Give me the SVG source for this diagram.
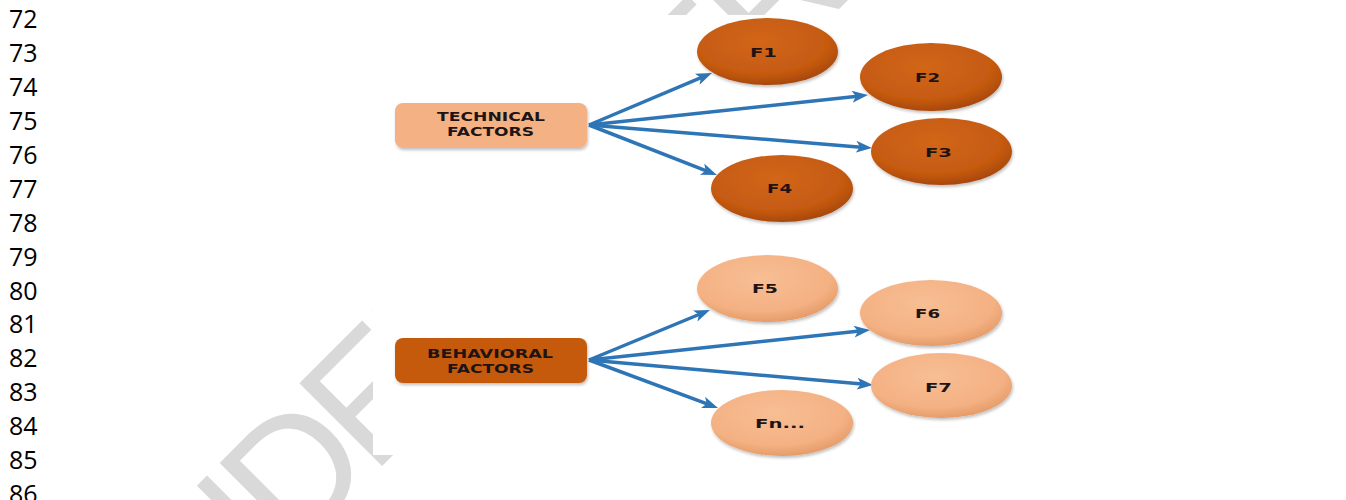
<svg xmlns="http://www.w3.org/2000/svg" width="1346" height="500" viewBox="0 0 1346 500">
<style>
.ln{font-family:"Open Sans","Liberation Sans",sans-serif;font-size:25px;fill:#000}
.wm{font-family:"Liberation Sans",Arial,sans-serif;font-size:170px;letter-spacing:-10px;fill:#d9d9d9}
.lbl{font-family:"DejaVu Sans","Liberation Sans",sans-serif;font-weight:bold;fill:#1e1414}
.box{font-size:12.5px}
.el{font-size:13px}
.conn{stroke:#2E75B6;stroke-width:3.5;fill:none;marker-end:url(#ah)}
</style>
<defs>
<marker id="ah" markerUnits="userSpaceOnUse" markerWidth="16" markerHeight="12" refX="8" refY="6" orient="auto">
<path d="M0,0 L16,6 L0,12 L4,6 z" fill="#2E75B6"/>
</marker>
<radialGradient id="gDark" cx="45%" cy="35%" r="65%">
<stop offset="0" stop-color="#D2661A"/>
<stop offset="0.75" stop-color="#C55A11"/>
<stop offset="1" stop-color="#A8480B"/>
</radialGradient>
<radialGradient id="gLight" cx="45%" cy="35%" r="65%">
<stop offset="0" stop-color="#F7BE94"/>
<stop offset="0.75" stop-color="#F4B183"/>
<stop offset="1" stop-color="#E59C6A"/>
</radialGradient>
<filter id="sh" x="-20%" y="-20%" width="140%" height="150%">
<feDropShadow dx="1" dy="2" stdDeviation="1.5" flood-color="#000" flood-opacity="0.25"/>
</filter>
</defs>

<g id="line-numbers">
<text class="ln" x="9" y="28">72</text>
<text class="ln" x="9" y="62">73</text>
<text class="ln" x="9" y="96">74</text>
<text class="ln" x="9" y="130">75</text>
<text class="ln" x="9" y="164">76</text>
<text class="ln" x="9" y="198">77</text>
<text class="ln" x="9" y="232">78</text>
<text class="ln" x="9" y="266">79</text>
<text class="ln" x="9" y="300">80</text>
<text class="ln" x="9" y="333">81</text>
<text class="ln" x="9" y="367">82</text>
<text class="ln" x="9" y="401">83</text>
<text class="ln" x="9" y="435">84</text>
<text class="ln" x="9" y="469">85</text>
<text class="ln" x="9" y="503">86</text>
</g>

<g id="watermark">
<text class="wm" transform="translate(133,715) rotate(-45)">UNDER PEER REVIEW</text>
</g>

<rect x="373" y="15" width="660" height="440" fill="#ffffff"/>

<g id="connectors">
<line class="conn" x1="589" y1="125" x2="704.6" y2="76.1"/>
<line class="conn" x1="589" y1="125" x2="860.0" y2="95.9"/>
<line class="conn" x1="589" y1="125" x2="864.0" y2="147.4"/>
<line class="conn" x1="589" y1="125" x2="709.5" y2="172.1"/>
<line class="conn" x1="589" y1="360" x2="702.6" y2="313.0"/>
<line class="conn" x1="589" y1="360" x2="862.0" y2="330.8"/>
<line class="conn" x1="589" y1="360" x2="865.0" y2="384.3"/>
<line class="conn" x1="589" y1="360" x2="710.5" y2="405.2"/>
</g>

<g id="technical-factors">
<rect x="395" y="103" width="192" height="45" rx="8" fill="#F4B183" filter="url(#sh)"/>
<text class="lbl box" x="491" y="121" text-anchor="middle" textLength="108" lengthAdjust="spacingAndGlyphs">TECHNICAL</text>
<text class="lbl box" x="490.5" y="136" text-anchor="middle" textLength="87" lengthAdjust="spacingAndGlyphs">FACTORS</text>
</g>

<g id="behavioral-factors">
<rect x="395" y="338" width="192" height="45" rx="8" fill="#C55A11" filter="url(#sh)"/>
<text class="lbl box" x="490" y="358" text-anchor="middle" textLength="126" lengthAdjust="spacingAndGlyphs">BEHAVIORAL</text>
<text class="lbl box" x="490.5" y="373" text-anchor="middle" textLength="87" lengthAdjust="spacingAndGlyphs">FACTORS</text>
</g>

<g id="f1">
<ellipse cx="767.5" cy="51.5" rx="70.5" ry="33.5" fill="url(#gDark)" filter="url(#sh)"/>
<text class="lbl el" x="763.5" y="57" text-anchor="middle" textLength="27" lengthAdjust="spacingAndGlyphs">F1</text>
</g>
<g id="f2">
<ellipse cx="931" cy="77" rx="71" ry="34" fill="url(#gDark)" filter="url(#sh)"/>
<text class="lbl el" x="927.5" y="82" text-anchor="middle" textLength="25" lengthAdjust="spacingAndGlyphs">F2</text>
</g>
<g id="f3">
<ellipse cx="941.5" cy="151.5" rx="70.5" ry="33.5" fill="url(#gDark)" filter="url(#sh)"/>
<text class="lbl el" x="938.5" y="157" text-anchor="middle" textLength="27" lengthAdjust="spacingAndGlyphs">F3</text>
</g>
<g id="f4">
<ellipse cx="782" cy="188.5" rx="71" ry="33.5" fill="url(#gDark)" filter="url(#sh)"/>
<text class="lbl el" x="779.5" y="193" text-anchor="middle" textLength="25" lengthAdjust="spacingAndGlyphs">F4</text>
</g>

<g id="f5">
<ellipse cx="767.5" cy="288.5" rx="70.5" ry="33.5" fill="url(#gLight)" filter="url(#sh)"/>
<text class="lbl el" x="765" y="293" text-anchor="middle" textLength="26" lengthAdjust="spacingAndGlyphs">F5</text>
</g>
<g id="f6">
<ellipse cx="931" cy="313" rx="71" ry="33" fill="url(#gLight)" filter="url(#sh)"/>
<text class="lbl el" x="927.5" y="317.5" text-anchor="middle" textLength="25" lengthAdjust="spacingAndGlyphs">F6</text>
</g>
<g id="f7">
<ellipse cx="941.5" cy="385.5" rx="70.5" ry="32.5" fill="url(#gLight)" filter="url(#sh)"/>
<text class="lbl el" x="938.5" y="391.5" text-anchor="middle" textLength="27" lengthAdjust="spacingAndGlyphs">F7</text>
</g>
<g id="fn">
<ellipse cx="782" cy="423" rx="71" ry="33" fill="url(#gLight)" filter="url(#sh)"/>
<text class="lbl el" x="780" y="428" text-anchor="middle" textLength="50" lengthAdjust="spacingAndGlyphs">Fn...</text>
</g>
</svg>
